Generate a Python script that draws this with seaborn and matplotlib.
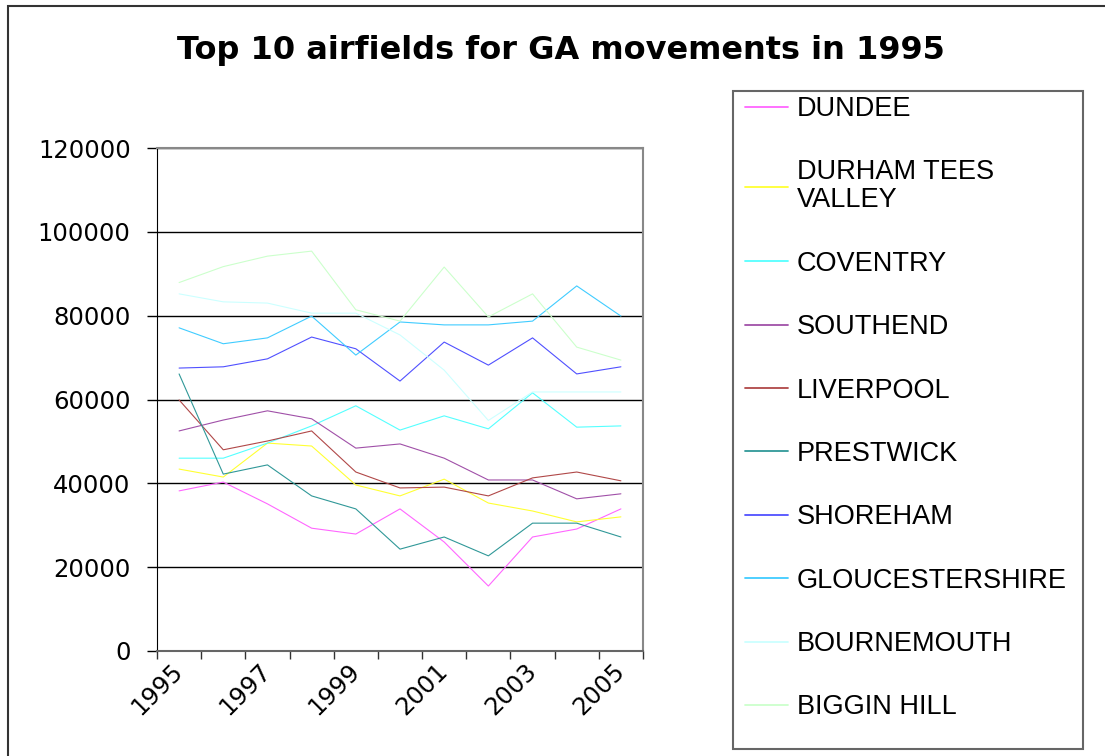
import pandas as pd
import matplotlib.pyplot as plt
import seaborn as sns
from matplotlib.patches import Rectangle
from matplotlib.ticker import MultipleLocator

years = list(range(1995, 2006))

dundee = [38200, 40300, 35100, 29300, 27900, 33900, 26000, 15500, 27200, 29100, 33900]
durham_tees_valley = [43400, 41500, 49600, 48900, 39600, 37000, 41000, 35300, 33400, 30800, 32000]
coventry = [46000, 46000, 49600, 53700, 58500, 52700, 56100, 53000, 61600, 53400, 53700]
southend = [52500, 55100, 57300, 55400, 48400, 49400, 46000, 40800, 40800, 36300, 37500]
liverpool = [59900, 48000, 50100, 52500, 42700, 38900, 39100, 37000, 41300, 42700, 40600]
prestwick = [66100, 42200, 44400, 37000, 33900, 24300, 27200, 22700, 30500, 30500, 27200]
shoreham = [67500, 67800, 69700, 74900, 72100, 64400, 73700, 68200, 74700, 66100, 67800]
gloucestershire = [77100, 73300, 74700, 79900, 70600, 78500, 77800, 77800, 78700, 87100, 79900]
bournemouth = [85200, 83300, 83000, 80600, 80600, 75400, 67000, 55000, 61800, 61800, 61800]
biggin_hill = [87900, 91700, 94200, 95400, 81400, 78700, 91600, 79700, 85200, 72500, 69400]

airfields = ['DUNDEE', 'DURHAM TEES VALLEY', 'COVENTRY', 'SOUTHEND', 'LIVERPOOL',
             'PRESTWICK', 'SHOREHAM', 'GLOUCESTERSHIRE', 'BOURNEMOUTH', 'BIGGIN HILL']
series = [dundee, durham_tees_valley, coventry, southend, liverpool,
          prestwick, shoreham, gloucestershire, bournemouth, biggin_hill]
colours = ['#FF66FF', '#FFFF33', '#55FFFF', '#A050A8', '#B04848',
           '#309898', '#5050FF', '#40CCFF', '#CCFFFF', '#CCFFCC']

rows = []
for name, vals in zip(airfields, series):
    for i, v in enumerate(vals):
        rows.append({'pos': i, 'airfield': name, 'movements': v})
df = pd.DataFrame(rows)

sns.set_style('white')
plt.rcParams['font.family'] = ['DejaVu Sans']
for key in ['text.color', 'xtick.color', 'ytick.color', 'axes.labelcolor']:
    plt.rcParams[key] = 'black'

fig = plt.figure(figsize=(11.05, 7.56), dpi=100)
ax = fig.add_axes([157 / 1105, 1 - 651 / 756, 486 / 1105, 503 / 756])

sns.lineplot(data=df, x='pos', y='movements', hue='airfield', hue_order=airfields,
             palette=dict(zip(airfields, colours)), linewidth=0.8, ax=ax)

ax.set_xlim(-0.5, 10.5)
ax.set_ylim(0, 120000)
ax.set_xlabel('')
ax.set_ylabel('')

# y axis
ax.yaxis.set_major_locator(MultipleLocator(20000))
ax.tick_params(axis='y', which='major', direction='out', length=7, width=1,
               color='black', labelsize=17.5, pad=12, left=True)
ax.grid(axis='y', color='black', linewidth=1)
ax.set_axisbelow(True)

# category axis: ticks between categories, labels on every other year
ax.set_xticks([i - 0.5 for i in range(12)], minor=True)
ax.set_xticks(range(0, 11, 2))
ax.set_xticklabels([str(y) for y in years[::2]], rotation=45, ha='right',
                   va='center', rotation_mode='anchor', fontsize=17.5)
ax.tick_params(axis='x', which='major', length=0, pad=12)
ax.tick_params(axis='x', which='minor', direction='out', length=6, width=1,
               color='#333333', bottom=True)

for side in ['top', 'right']:
    ax.spines[side].set_color('#888888')
    ax.spines[side].set_linewidth(1.5)
ax.spines['left'].set_color('black')
ax.spines['bottom'].set_color('#666666')
ax.spines['bottom'].set_linewidth(1.5)

handles, labels = ax.get_legend_handles_labels()
ax.get_legend().remove()
labels = [l.replace('DURHAM TEES VALLEY', 'DURHAM TEES\nVALLEY') for l in labels]
leg = fig.legend(handles, labels, loc='upper left',
                 bbox_to_anchor=(745 / 1105, 1 - 96 / 756), borderaxespad=0,
                 prop={'family': 'Liberation Sans', 'size': 19.5}, frameon=False,
                 handlelength=1.59, handletextpad=0.33, labelspacing=1.38,
                 borderpad=0)
for line in leg.get_lines():
    line.set_linewidth(1.3)
leg.get_texts()[1].set_linespacing(1.1)

# legend box
fig.patches.append(Rectangle((733 / 1105, 1 - 749 / 756), 350 / 1105, 658 / 756,
                             transform=fig.transFigure, fill=False,
                             edgecolor='#666666', linewidth=1.5))

fig.text(561 / 1105, 1 - 51 / 756, 'Top 10 airfields for GA movements in 1995',
         ha='center', va='center', fontsize=23, fontweight='bold')

# outer chart border
fig.patches.append(Rectangle((8 / 1105, -0.05), 1.2, 1.05 - 6 / 756, transform=fig.transFigure,
                             fill=False, edgecolor='#333333', linewidth=1.5))

fig.savefig('out.png', dpi=100)
